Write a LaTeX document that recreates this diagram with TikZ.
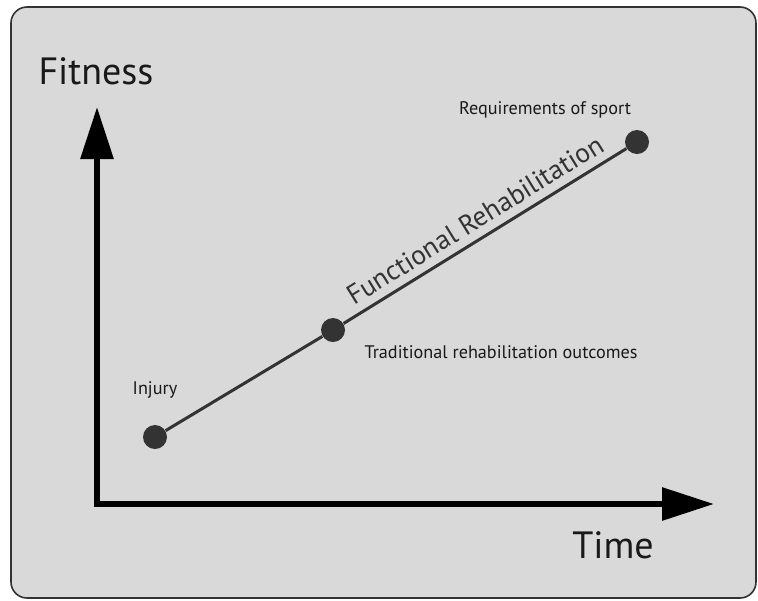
\documentclass[tikz,border=0pt]{standalone}
\usepackage{fontspec}
\setmainfont{PT Sans}
\usetikzlibrary{arrows.meta}
\definecolor{panelGray}{HTML}{D9D9D9}
\definecolor{dotGray}{HTML}{333333}
\tikzset{
  axisline/.style={line width=3pt,black,-{Triangle[length=26pt,width=16pt]}},
  stagedot/.style={circle,fill=dotGray,minimum size=12pt,inner sep=0pt},
  stagelabel/.style={font=\fontsize{9.1}{11}\selectfont,text=black!90},
  axislabel/.style={font=\fontsize{19}{22}\selectfont,text=black!90},
  pathline/.style={line width=1.5pt,dotGray}
}
\begin{document}
\begin{tikzpicture}[x=0.5pt,y=-0.5pt]
  \useasboundingbox (0,0) rectangle (758,600);
  \draw[black!80,line width=0.8pt,fill=panelGray,rounded corners=8pt]
    (11,7) rectangle (756,598);

  % axes
  \coordinate (origin) at (97,504);
  \coordinate (ytip) at (97,107);
  \coordinate (xtip) at (714,504);
  \draw[axisline] ([yshift=-1.5pt]origin) -- (ytip);
  \draw[axisline] ([xshift=-1.5pt]origin) -- (xtip);
  \node[axislabel] (fitness) at (96,71) {Fitness};
  \node[axislabel] (time) at (613,545) {Time};

  % stages
  \node[stagedot] (injury) at (155,437) {};
  \node[stagedot] (trad) at (333,330) {};
  \node[stagedot] (sport) at (637,142) {};
  \draw[pathline] (injury) -- (trad);
  \draw[pathline] (trad) -- (sport)
    node[pos=0.5,above=0.5pt,sloped,font=\fontsize{13.7}{16}\selectfont]
    (functional) {Functional Rehabilitation};

  \node[stagelabel] (injurylabel) at (155,390) {Injury};
  \node[stagelabel] (tradlabel) at (501,352) {Traditional rehabilitation outcomes};
  \node[stagelabel] (sportlabel) at (545,110) {Requirements of sport};
\end{tikzpicture}
\end{document}
